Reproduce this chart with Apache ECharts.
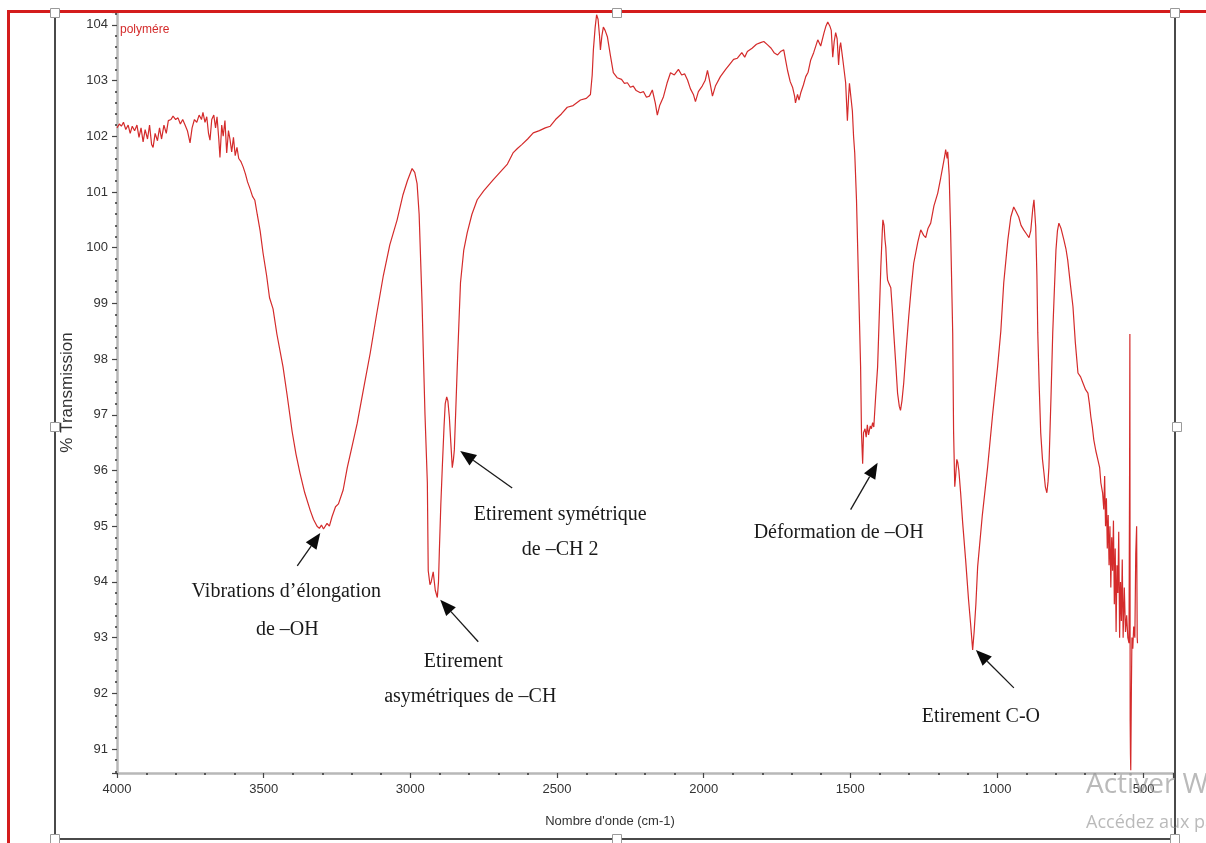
<!DOCTYPE html>
<html>
<head>
<meta charset="utf-8">
<script src="https://cdn.jsdelivr.net/npm/echarts@6/dist/echarts.min.js"></script>
<style>
  html, body { margin: 0; padding: 0; background: #ffffff; }
  #chart { width: 1206px; height: 843px; }
</style>
</head>
<body>
<div id="chart"></div>
<script>
// FTIR spectrum of the polymer: wavenumber (cm-1) and % transmission
const wavenumbers = [
  4000, 3992, 3985, 3978, 3970, 3962, 3955, 3948, 3940, 3932, 3925, 3918, 3911, 3904, 3896, 3889,
  3882, 3877, 3870, 3862, 3855, 3848, 3840, 3832, 3825, 3816, 3809, 3800, 3792, 3784, 3776, 3768,
  3760, 3751, 3744, 3736, 3728, 3720, 3712, 3707, 3700, 3694, 3688, 3683, 3677, 3670, 3664, 3659,
  3653, 3649, 3643, 3638, 3632, 3626, 3620, 3615, 3609, 3603, 3597, 3591, 3585, 3578, 3570, 3562,
  3555, 3546, 3538, 3530, 3522, 3512, 3502, 3490, 3480, 3468, 3455, 3434, 3420, 3403, 3390, 3376,
  3360, 3341, 3330, 3318, 3310, 3303, 3296, 3290, 3284, 3276, 3267, 3255, 3245, 3229, 3215, 3200,
  3181, 3160, 3137, 3115, 3092, 3070, 3045, 3025, 3010, 2994, 2985, 2977, 2970, 2966, 2960, 2956,
  2950, 2942, 2939, 2933, 2929, 2922, 2915, 2908, 2904, 2901, 2896, 2891, 2885, 2881, 2876, 2872,
  2867, 2862, 2857, 2853, 2850, 2845, 2840, 2834, 2829, 2818, 2806, 2790, 2772, 2750, 2717, 2693,
  2669, 2650, 2635, 2620, 2600, 2581, 2560, 2540, 2523, 2505, 2485, 2465, 2445, 2420, 2400, 2386,
  2380, 2376, 2370, 2365, 2360, 2355, 2352, 2347, 2342, 2336, 2328, 2318, 2308, 2295, 2280, 2270,
  2260, 2250, 2240, 2230, 2216, 2205, 2195, 2185, 2175, 2165, 2158, 2150, 2137, 2125, 2113, 2100,
  2086, 2075, 2065, 2055, 2045, 2035, 2028, 2018, 2005, 1995, 1987, 1978, 1970, 1960, 1943, 1925,
  1910, 1898, 1885, 1870, 1860, 1851, 1835, 1820, 1806, 1795, 1782, 1770, 1760, 1748, 1738, 1727,
  1720, 1714, 1705, 1697, 1690, 1687, 1680, 1675, 1669, 1660, 1652, 1644, 1635, 1625, 1611, 1601,
  1590, 1583, 1577, 1570, 1565, 1560, 1555, 1550, 1545, 1540, 1536, 1533, 1525, 1516, 1510, 1506,
  1503, 1498, 1493, 1489, 1485, 1479, 1472, 1465, 1462, 1458, 1455, 1450, 1446, 1442, 1438, 1432,
  1428, 1424, 1420, 1414, 1407, 1400, 1396, 1391, 1389, 1385, 1382, 1379, 1375, 1373, 1368, 1362,
  1357, 1352, 1345, 1339, 1333, 1329, 1324, 1318, 1310, 1301, 1292, 1284, 1270, 1260, 1250, 1243,
  1235, 1226, 1215, 1202, 1192, 1185, 1178, 1175, 1170, 1168, 1163, 1158, 1151, 1148, 1144, 1141,
  1137, 1134, 1130, 1124, 1117, 1107, 1097, 1090, 1083, 1078, 1072, 1066, 1050, 1032, 1015, 998,
  987, 977, 963, 953, 943, 935, 926, 918, 909, 900, 891, 885, 878, 874, 868, 864,
  861, 856, 851, 845, 840, 835, 830, 826, 823, 816, 810, 804, 799, 794, 789, 782,
  772, 765, 759, 750, 741, 733, 724, 715, 707, 698, 690, 685, 680, 675, 670, 663,
  656, 650, 646, 640, 636, 633, 630, 627, 624, 621, 618, 615, 612, 609, 606, 603,
  600, 597, 594, 591, 588, 585, 582, 579, 576, 573, 570, 566, 562, 558, 554, 550,
  548, 547, 546, 545, 544, 542, 540, 537, 534, 530, 527, 524, 522, 521
];
const transmission = [
  102.15, 102.22, 102.18, 102.25, 102.12, 102.20, 102.05, 102.18, 102.10, 102.20, 101.98, 102.15, 101.90, 102.12, 101.95, 102.20,
  101.85, 101.80, 102.05, 101.92, 102.15, 101.95, 102.20, 102.05, 102.28, 102.30, 102.36, 102.30, 102.33, 102.22, 102.30, 102.20,
  102.10, 101.88, 102.15, 102.30, 102.25, 102.38, 102.30, 102.43, 102.25, 102.35, 102.05, 101.93, 102.30, 102.38, 102.15, 102.35,
  101.95, 101.62, 102.20, 102.00, 102.28, 101.70, 102.10, 101.95, 101.72, 101.98, 101.65, 101.80, 101.60, 101.55, 101.45, 101.32,
  101.18, 101.05, 100.92, 100.85, 100.60, 100.30, 99.90, 99.50, 99.10, 98.90, 98.45, 97.86, 97.35, 96.70, 96.30, 95.95,
  95.60, 95.28, 95.12, 95.00, 94.96, 95.02, 94.95, 94.92, 95.05, 95.00, 95.17, 95.35, 95.40, 95.65, 96.05, 96.40,
  96.85, 97.45, 98.10, 98.80, 99.50, 100.05, 100.50, 100.95, 101.20, 101.42, 101.35, 101.15, 100.60, 99.96, 99.00, 98.17,
  97.00, 95.78, 94.20, 93.95, 94.00, 94.18, 93.85, 93.72, 94.00, 94.57, 95.40, 96.06, 96.80, 97.20, 97.32, 97.25,
  96.96, 96.50, 96.05, 96.20, 96.37, 97.10, 97.86, 98.70, 99.37, 99.95, 100.27, 100.60, 100.86, 101.02, 101.22, 101.36,
  101.50, 101.70, 101.78, 101.85, 101.95, 102.06, 102.10, 102.15, 102.18, 102.30, 102.40, 102.52, 102.55, 102.65, 102.68, 102.75,
  103.10, 103.55, 103.95, 104.18, 104.10, 103.80, 103.55, 103.80, 103.96, 103.90, 103.78, 103.45, 103.14, 103.05, 103.02, 102.95,
  102.96, 102.88, 102.90, 102.82, 102.78, 102.80, 102.70, 102.72, 102.83, 102.60, 102.38, 102.55, 102.71, 102.95, 103.14, 103.10,
  103.20, 103.10, 103.12, 103.01, 102.85, 102.75, 102.62, 102.80, 102.90, 103.00, 103.18, 102.95, 102.72, 102.90, 103.07, 103.20,
  103.30, 103.38, 103.40, 103.50, 103.42, 103.52, 103.58, 103.65, 103.68, 103.70, 103.64, 103.58, 103.50, 103.46, 103.52, 103.55,
  103.35, 103.18, 102.98, 102.88, 102.72, 102.60, 102.75, 102.65, 102.78, 102.92, 103.07, 103.15, 103.37, 103.50, 103.73, 103.62,
  103.85, 103.98, 104.05, 103.98, 103.90, 103.42, 103.70, 103.86, 103.75, 103.28, 103.60, 103.68, 103.35, 102.96, 102.28, 102.70,
  102.95, 102.70, 102.45, 102.00, 101.70, 100.86, 99.37, 97.86, 96.68, 96.12, 96.68, 96.75, 96.60, 96.82, 96.64, 96.80,
  96.75, 96.86, 96.78, 97.30, 97.86, 99.00, 99.66, 100.30, 100.50, 100.40, 100.15, 100.00, 99.55, 99.42, 99.35, 99.28,
  98.90, 98.47, 97.90, 97.39, 97.15, 97.08, 97.25, 97.57, 98.15, 98.76, 99.30, 99.72, 100.10, 100.32, 100.22, 100.18,
  100.35, 100.44, 100.75, 100.98, 101.25, 101.45, 101.65, 101.76, 101.60, 101.72, 101.30, 100.27, 98.47, 96.70, 95.71, 95.90,
  96.20, 96.15, 96.00, 95.60, 95.06, 94.40, 93.68, 93.25, 92.78, 93.10, 93.60, 94.27, 95.20, 96.06, 97.00, 97.86,
  98.50, 99.37, 100.14, 100.55, 100.73, 100.65, 100.55, 100.40, 100.32, 100.25, 100.18, 100.30, 100.70, 100.86, 100.37, 99.50,
  98.47, 97.50, 96.68, 96.20, 95.96, 95.70, 95.60, 95.80, 96.06, 97.30, 98.47, 99.30, 99.96, 100.30, 100.44, 100.35,
  100.14, 99.98, 99.78, 99.35, 98.94, 98.30, 97.75, 97.68, 97.57, 97.45, 97.39, 97.20, 96.96, 96.78, 96.55, 96.35,
  96.19, 96.05, 95.78, 95.60, 95.30, 95.90, 95.00, 95.50, 94.60, 95.20, 94.30, 95.00, 93.90, 94.80, 94.20, 95.10,
  93.60, 94.60, 93.10, 94.30, 93.80, 94.90, 93.00, 94.00, 93.30, 94.40, 93.00, 93.90, 93.10, 93.40, 93.00, 92.90,
  96.00, 98.45, 91.50, 90.90, 90.62, 92.00, 93.00, 92.80, 93.20, 93.00, 94.50, 95.00, 93.00, 92.90
];

// Axis extents
const xRange = [400, 4000];
const yRange = [90.57, 104.23];
const sampleName = 'polymére';
const xAxisTitle = "Nombre d'onde (cm-1)";
const yAxisTitle = '% Transmission';

// Band assignments: text lines and the spectral point each arrow points at
const bandLabels = [
  ['Vibrations d\u2019élongation', 'de \u2013OH'],
  ['Etirement', 'asymétriques de \u2013CH'],
  ['Etirement symétrique', 'de \u2013CH 2'],
  ['Déformation de \u2013OH'],
  ['Etirement C-O']
];
const bandTargets = [
  [3307, 94.88],
  [2898, 93.68],
  [2830, 96.35],
  [1407, 96.14],
  [1072, 92.78]
];

// Pixel layout of each arrow tail and its text lines, relative to the arrow tip
const bandLayout = [
  { tail: [-23, 33], text: [[-34, 59], [-33, 97]] },
  { tail: [38, 42], text: [[23, 62], [30, 97]] },
  { tail: [52, 37], text: [[100, 64], [100, 99]] },
  { tail: [-27, 47], text: [[-39, 70]] },
  { tail: [38, 38], text: [[5, 67]] }
];

const seriesData = wavenumbers.map((w, i) => [w, transmission[i]]);

const sans = "'Liberation Sans', Arial, sans-serif";
const serif = "'Liberation Serif', 'Times New Roman', 'DejaVu Serif', serif";

const chart = echarts.init(document.getElementById('chart'), null, { renderer: 'canvas' });

const axisCommon = {
  axisLine: { show: true, lineStyle: { color: '#b8b8b8', width: 2.5 } },
  axisTick: { show: true, inside: false, length: 5, lineStyle: { color: '#444', width: 1.2 } },
  minorTick: { show: true, splitNumber: 5, length: 2, lineStyle: { color: '#333', width: 1.5 } },
  splitLine: { show: false },
  minorSplitLine: { show: false }
};

chart.setOption({
  animation: false,
  backgroundColor: '#ffffff',
  grid: { left: 117, right: 33, top: 12, bottom: 70, containLabel: false },
  xAxis: Object.assign({}, axisCommon, {
    type: 'value',
    inverse: true,
    min: xRange[0],
    max: xRange[1],
    splitNumber: 7,
    name: xAxisTitle,
    nameLocation: 'middle',
    nameGap: 42,
    nameTextStyle: { fontFamily: sans, fontSize: 13, color: '#333', padding: [0, 70, 0, 0] },
    axisLabel: {
      showMinLabel: false,
      showMaxLabel: true,
      margin: 10,
      fontFamily: sans,
      fontSize: 13,
      color: '#333',
      formatter: v => String(v)
    }
  }),
  yAxis: Object.assign({}, axisCommon, {
    type: 'value',
    min: yRange[0],
    max: yRange[1],
    splitNumber: 14,
    name: yAxisTitle,
    nameLocation: 'middle',
    nameGap: 41,
    nameTextStyle: { fontFamily: sans, fontSize: 17, color: '#333' },
    axisLabel: {
      showMinLabel: false,
      showMaxLabel: false,
      margin: 9,
      fontFamily: sans,
      fontSize: 13,
      color: '#333',
      formatter: v => String(v)
    }
  }),
  series: [{
    type: 'line',
    name: sampleName,
    data: seriesData,
    showSymbol: false,
    symbol: 'none',
    smooth: false,
    clip: true,
    lineStyle: { color: '#d42b2b', width: 1.2 }
  }]
});

// Decorations: frame, selection handles, sample name, band annotations
function arrowElements(tip, tail) {
  const dx = tip[0] - tail[0];
  const dy = tip[1] - tail[1];
  const len = Math.sqrt(dx * dx + dy * dy);
  const ux = dx / len, uy = dy / len;
  const headLen = 16, headHalf = 6.5;
  const bx = tip[0] - ux * headLen, by = tip[1] - uy * headLen;
  const nx = -uy, ny = ux;
  return [
    {
      type: 'line', silent: true, z: 20,
      shape: { x1: tail[0], y1: tail[1], x2: bx, y2: by },
      style: { stroke: '#1a1a1a', lineWidth: 1.3 }
    },
    {
      type: 'polygon', silent: true, z: 20,
      shape: { points: [tip, [bx + nx * headHalf, by + ny * headHalf], [bx - nx * headHalf, by - ny * headHalf]] },
      style: { fill: '#0a0a0a' }
    }
  ];
}

const graphics = [];

// outer frame of the plot window
graphics.push({
  type: 'polyline', silent: true, z: 5,
  shape: { points: [[55, 12], [55, 839], [1175, 839], [1175, 12]] },
  style: { stroke: '#4a4a4a', lineWidth: 2, fill: null }
});
// red border
graphics.push({
  type: 'polyline', silent: true, z: 30,
  shape: { points: [[8.5, 843], [8.5, 11.5], [1206, 11.5]] },
  style: { stroke: '#d41c1c', lineWidth: 3, fill: null }
});
// resize handles
[[55, 13], [617, 13], [1175, 13], [55, 427], [1177, 427], [55, 839], [617, 839], [1175, 839]].forEach(p => {
  graphics.push({
    type: 'rect', silent: true, z: 31,
    shape: { x: p[0] - 4.5, y: p[1] - 4.5, width: 9, height: 9 },
    style: { fill: '#ffffff', stroke: '#9a9a9a', lineWidth: 1 }
  });
});

// sample name at top-left of the plot
graphics.push({
  type: 'text', silent: true, z: 20,
  style: { x: 120, y: 30, text: sampleName, fill: '#d42b2b', font: '12px ' + sans, textAlign: 'left', textVerticalAlign: 'middle' }
});

// band arrows and labels, positioned from the spectral coordinates
bandTargets.forEach((target, i) => {
  const tip = chart.convertToPixel({ xAxisIndex: 0, yAxisIndex: 0 }, target);
  const lay = bandLayout[i];
  const tail = [tip[0] + lay.tail[0], tip[1] + lay.tail[1]];
  arrowElements(tip, tail).forEach(el => graphics.push(el));
  bandLabels[i].forEach((line, j) => {
    graphics.push({
      type: 'text', silent: true, z: 20,
      style: {
        x: tip[0] + lay.text[j][0], y: tip[1] + lay.text[j][1],
        text: line, fill: '#1a1a1a', font: '20px ' + serif,
        textAlign: 'center', textVerticalAlign: 'middle'
      }
    });
  });
});

// system watermark in the lower-right corner
graphics.push({
  type: 'text', silent: true, z: 40,
  style: { x: 1086, y: 785, text: 'Activer Windows', fill: 'rgba(140,140,140,0.6)', font: '28px "Open Sans", "Noto Sans", sans-serif', textAlign: 'left', textVerticalAlign: 'middle' }
});
graphics.push({
  type: 'text', silent: true, z: 40,
  style: { x: 1086, y: 823, text: 'Accédez aux paramètres', fill: 'rgba(140,140,140,0.6)', font: '18px "Open Sans", "Noto Sans", sans-serif', textAlign: 'left', textVerticalAlign: 'middle' }
});

chart.setOption({ graphic: graphics });
</script>
</body>
</html>
